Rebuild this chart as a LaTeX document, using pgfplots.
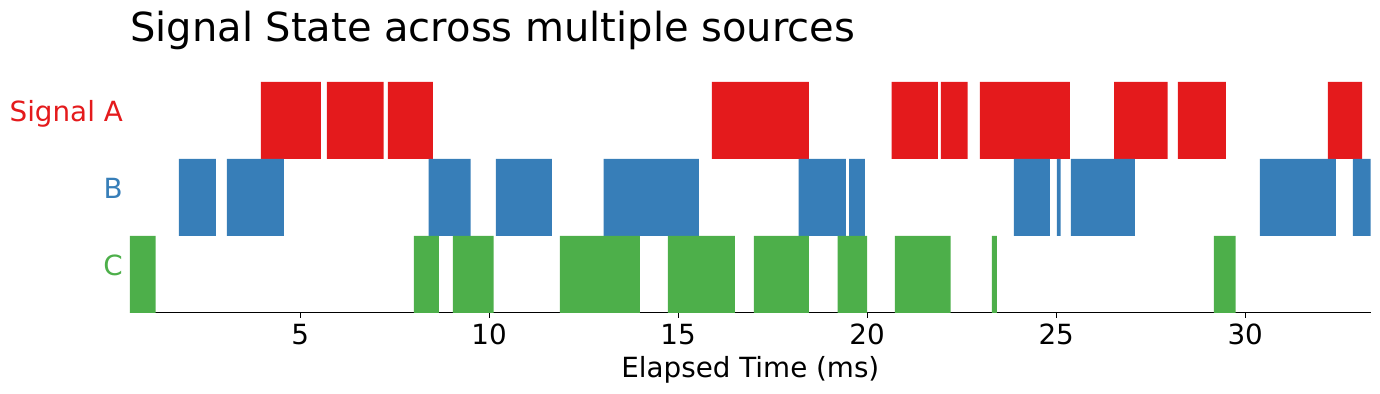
\documentclass[border=0pt]{standalone}
\usepackage{pgfplots}
\pgfplotsset{compat=1.18}
\usepackage{fontspec}
\setmainfont{DejaVu Sans}
\definecolor{sred}{HTML}{E41A1C}
\definecolor{sblue}{HTML}{377EB8}
\definecolor{sgreen}{HTML}{4DAF4A}
\begin{document}
\begin{tikzpicture}
\useasboundingbox (-93.6pt,-58.3pt) rectangle (900pt,225.3pt);
\begin{axis}[
  at={(0,0)}, anchor=south west,
  scale only axis, width=893.3pt, height=166.3pt,
  xmin=0.5, xmax=33.32, ymin=0, ymax=3,
  axis x line*=bottom, axis y line*=left,
  y axis line style={draw=none},
  x axis line style={line width=0.8pt, black},
  xtick={5,10,15,20,25,30},
  ytick={0.5,1.5,2.5},
  yticklabels={\textcolor{sgreen}{C},\textcolor{sblue}{B},\textcolor{sred}{Signal A}},
  ytick style={draw=none},
  xtick style={line width=0.8pt, black},
  tick align=outside, major tick length=3.5pt,
  /pgf/number format/assume math mode=true,
  xticklabel style={font=\fontsize{20}{24}\selectfont, anchor=base, yshift=-19pt, inner sep=0pt},
  yticklabel style={font=\fontsize{20}{24}\selectfont, anchor=base east, inner sep=0pt, xshift=-1.5pt, yshift=-0.7pt},
  xlabel={Elapsed Time (ms)},
  xlabel style={font=\fontsize{20}{24}\selectfont, at={(axis description cs:0.5,0)}, anchor=base, yshift=-46.6pt, inner sep=0pt},
  title={Signal State across multiple sources},
  title style={font=\fontsize{28.8}{34}\selectfont, at={(axis description cs:0,1)}, anchor=base west, yshift=22.8pt, inner sep=0pt},
  unbounded coords=jump,
  clip=true,
]
% Signal A (row 2..3)
\addplot[fill=sred, draw=none] coordinates {
(3.96,2) (5.55,2) (5.55,3) (3.96,3) (3.96,2) (nan,nan)
(5.71,2) (7.21,2) (7.21,3) (5.71,3) (5.71,2) (nan,nan)
(7.32,2) (8.51,2) (8.51,3) (7.32,3) (7.32,2) (nan,nan)
(15.89,2) (18.46,2) (18.46,3) (15.89,3) (15.89,2) (nan,nan)
(20.65,2) (21.87,2) (21.87,3) (20.65,3) (20.65,2) (nan,nan)
(21.95,2) (22.66,2) (22.66,3) (21.95,3) (21.95,2) (nan,nan)
(22.98,2) (25.36,2) (25.36,3) (22.98,3) (22.98,2) (nan,nan)
(26.53,2) (27.95,2) (27.95,3) (26.53,3) (26.53,2) (nan,nan)
(28.22,2) (29.49,2) (29.49,3) (28.22,3) (28.22,2) (nan,nan)
(32.19,2) (33.09,2) (33.09,3) (32.19,3) (32.19,2)
};
% B (row 1..2)
\addplot[fill=sblue, draw=none] coordinates {
(1.79,1) (2.77,1) (2.77,2) (1.79,2) (1.79,1) (nan,nan)
(3.06,1) (4.57,1) (4.57,2) (3.06,2) (3.06,1) (nan,nan)
(8.40,1) (9.51,1) (9.51,2) (8.40,2) (8.40,1) (nan,nan)
(10.18,1) (11.66,1) (11.66,2) (10.18,2) (10.18,1) (nan,nan)
(13.03,1) (15.55,1) (15.55,2) (13.03,2) (13.03,1) (nan,nan)
(18.19,1) (19.44,1) (19.44,2) (18.19,2) (18.19,1) (nan,nan)
(19.52,1) (19.94,1) (19.94,2) (19.52,2) (19.52,1) (nan,nan)
(23.88,1) (24.83,1) (24.83,2) (23.88,2) (23.88,1) (nan,nan)
(25.02,1) (25.12,1) (25.12,2) (25.02,2) (25.02,1) (nan,nan)
(25.39,1) (27.08,1) (27.08,2) (25.39,2) (25.39,1) (nan,nan)
(30.39,1) (32.40,1) (32.40,2) (30.39,2) (30.39,1) (nan,nan)
(32.85,1) (33.32,1) (33.32,2) (32.85,2) (32.85,1)
};
% C (row 0..1)
\addplot[fill=sgreen, draw=none] coordinates {
(0.50,0) (1.18,0) (1.18,1) (0.50,1) (0.50,0) (nan,nan)
(8.01,0) (8.67,0) (8.67,1) (8.01,1) (8.01,0) (nan,nan)
(9.04,0) (10.12,0) (10.12,1) (9.04,1) (9.04,0) (nan,nan)
(11.87,0) (13.99,0) (13.99,1) (11.87,1) (11.87,0) (nan,nan)
(14.73,0) (16.50,0) (16.50,1) (14.73,1) (14.73,0) (nan,nan)
(17.00,0) (18.46,0) (18.46,1) (17.00,1) (17.00,0) (nan,nan)
(19.22,0) (20.00,0) (20.00,1) (19.22,1) (19.22,0) (nan,nan)
(20.73,0) (22.21,0) (22.21,1) (20.73,1) (20.73,0) (nan,nan)
(23.30,0) (23.43,0) (23.43,1) (23.30,1) (23.30,0) (nan,nan)
(29.17,0) (29.75,0) (29.75,1) (29.17,1) (29.17,0)
};
\end{axis}
\end{tikzpicture}
\end{document}
